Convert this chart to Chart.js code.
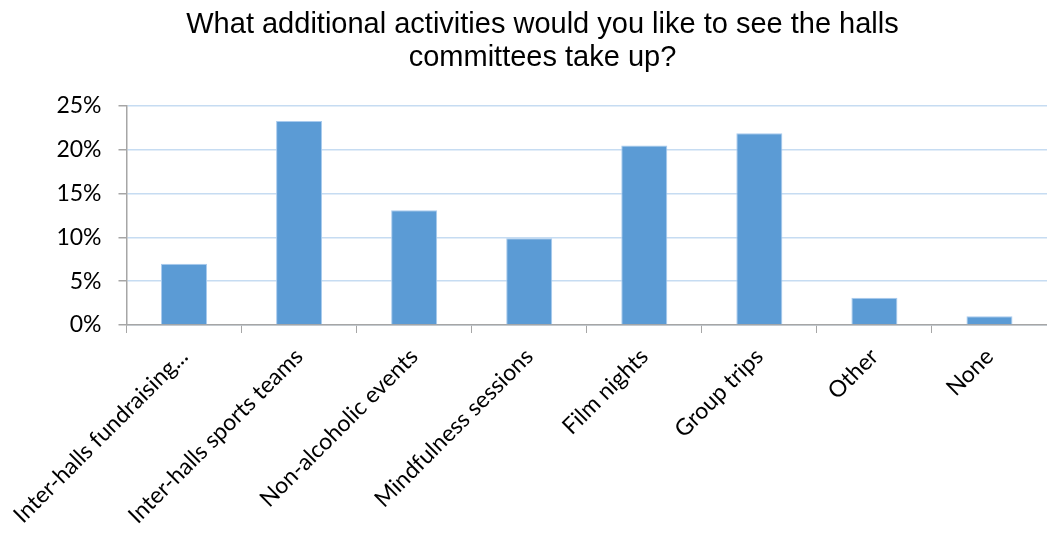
<!DOCTYPE html>
<html>
<head>
<meta charset="utf-8">
<script src="https://cdn.jsdelivr.net/npm/chart.js@4"></script>
<style>
  html, body { margin: 0; padding: 0; background: #fff; }
  #wrap { width: 1047px; height: 540px; }
</style>
</head>
<body>
<div id="wrap"><canvas id="chart-activities"></canvas></div>
<script>
const titleLines = ['What additional activities would you like to see the halls', 'committees take up?']
const activities = [
  'Inter-halls fundraising...',
  'Inter-halls sports teams',
  'Non-alcoholic events',
  'Mindfulness sessions',
  'Film nights',
  'Group trips',
  'Other',
  'None'
]
const share = [7.0, 23.3, 13.1, 9.9, 20.5, 21.9, 3.1, 1.0]
const yTicks = [0, 5, 10, 15, 20, 25]

const canvas = document.getElementById('chart-activities')
const tickFont = { family: 'Lato', size: 23 }

const chart = new Chart(canvas, {
  type: 'bar',
  data: {
    labels: activities,
    datasets: [
      {
        data: share,
        backgroundColor: '#5b9bd5',
        borderColor: '#a9cbee',
        borderWidth: 1,
        categoryPercentage: 1,
        barPercentage: 0.4,
      }
    ]
  },
  options: {
    animation: false,
    responsive: true,
    maintainAspectRatio: false,
    // left padding keeps the title centred a little right of the canvas middle,
    // the plot runs slightly past the right edge
    layout: { padding: { left: 34, right: -4, top: 0, bottom: 0 } },
    plugins: {
      legend: { display: false },
      tooltip: { enabled: false },
      title: {
        display: true,
        text: titleLines,
        color: '#000',
        font: { family: 'Liberation Sans', size: 29, weight: 'normal', lineHeight: '33px' },
        padding: { top: 8, bottom: 32 }
      }
    },
    scales: {
      x: {
        grid: {
          drawOnChartArea: false,
          drawTicks: true,
          tickLength: 8,
          tickColor: '#a6a6a6',
          offset: true
        },
        border: { color: '#a6a6a6', width: 1.5 },
        ticks: {
          color: '#000',
          font: tickFont,
          minRotation: 45,
          maxRotation: 45,
          autoSkip: false,
          padding: 10
        },
        afterFit: scale => { scale.height = 215 }
      },
      y: {
        min: 0,
        max: 25,
        afterBuildTicks: scale => { scale.ticks = yTicks.map(v => ({ value: v })) },
        grid: {
          color: '#c6dcf2',
          lineWidth: 1.5,
          tickLength: 8,
          tickColor: '#a6a6a6'
        },
        border: { color: '#a6a6a6', width: 1.5 },
        ticks: {
          color: '#000',
          font: tickFont,
          padding: 17,
          callback: v => v + '%'
        },
        afterFit: scale => { scale.width = 92 }
      }
    }
  }
})
</script>
</body>
</html>
